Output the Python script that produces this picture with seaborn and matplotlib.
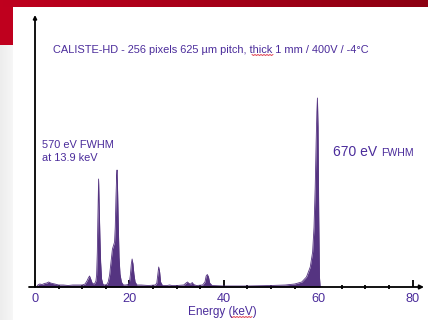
import numpy as np
import pandas as pd
import matplotlib
matplotlib.use("Agg")
import matplotlib.pyplot as plt
from matplotlib.ticker import MultipleLocator
from matplotlib.lines import Line2D
import seaborn as sns

# ---- data (counts in arbitrary units) ----
energy_kev = [0.3, 0.6, 1.0, 1.5, 2.0, 2.5, 2.9, 3.3, 3.7, 4.2, 5.0, 6.0, 7.0, 8.0, 9.0,
              10.0, 10.6, 11.0, 11.3, 11.55, 11.8, 12.1, 12.4, 12.7, 12.9, 13.05, 13.2,
              13.3, 13.47, 13.6, 13.75, 13.9, 14.1, 14.4, 14.8, 15.2, 15.5, 15.8, 16.1,
              16.4, 16.66, 16.85, 17.0, 17.15, 17.3, 17.38, 17.5, 17.65, 17.8, 18.0, 18.3,
              18.7, 19.2, 19.7, 20.0, 20.2, 20.4, 20.57, 20.75, 20.95, 21.2, 21.6, 22.5,
              24.0, 25.5, 25.8, 26.0, 26.2, 26.4, 26.6, 27.0, 28.0, 28.5, 29.0, 30.0,
              31.5, 32.0, 32.3, 32.6, 33.0, 33.3, 33.6, 34.2, 35.5, 36.0, 36.25, 36.5,
              36.75, 37.0, 37.5, 40.0, 45.0, 50.0, 53.0, 55.0, 56.5, 57.5, 58.3, 58.8,
              59.1, 59.35, 59.55, 59.7, 59.82, 59.95, 60.1, 60.25, 60.4, 61.0]
counts = [0, 20, 30, 25, 35, 40, 50, 40, 35, 30, 20, 20, 15, 20, 20,
          20, 30, 60, 90, 110, 80, 40, 30, 40, 60, 120, 350,
          650, 1080, 800, 500, 250, 80, 25, 20, 25, 50, 120, 250,
          380, 420, 450, 600, 900, 1120, 1170, 950, 600, 300, 130, 50,
          20, 20, 25, 50, 120, 230, 280, 230, 130, 50, 20, 20,
          15, 20, 40, 120, 200, 150, 50, 15, 15, 20, 15, 15,
          20, 40, 50, 35, 30, 45, 25, 15, 20, 50, 110, 125,
          100, 40, 15, 10, 10, 15, 20, 30, 50, 100, 200, 350,
          600, 1000, 1450, 1750, 1890, 1600, 700, 100, 0, 0]
major_ticks = [0, 20, 40, 60, 80]
tick_labels = ["0", "20", "40", "60", "80"]

title_text = "CALISTE-HD - 256 pixels 625 \u00b5m pitch, thick 1 mm / 400V / -4\u00b0C"
x_label = "Energy (keV)"
note_left = ["570 eV FWHM", "at 13.9 keV"]
note_right_big = "670 eV"
note_right_small = "FWHM"

df = pd.DataFrame({"energy": energy_kev, "counts": counts})

# ---- styling ----
sns.set_theme(style="white")
plt.rcParams["font.family"] = ["Liberation Sans", "DejaVu Sans"]

W, H = 428, 320
fig = plt.figure(figsize=(W / 100, H / 100), dpi=100)

# background: slide decorations
bg = np.ones((H, W, 3))
ramp = np.linspace(0, 1, W)
red_l = np.array([0.75, 0.0, 0.12])
red_r = np.array([0.55, 0.0, 0.07])
red_row = red_l[None, :] * (1 - ramp[:, None]) + red_r[None, :] * ramp[:, None]
bg[0:7, :, :] = red_row[None, :, :]
bg[7:45, 0:13, :] = red_l
gray = np.linspace(0.93, 0.965, 13)
bg[45:, 0:13, :] = gray[None, :, None]
bax = fig.add_axes([0, 0, 1, 1])
bax.imshow(bg, aspect="auto", interpolation="nearest")
bax.axis("off")

purple_txt = "#4B2C9B"
fill_col = "#553481"

# axes geometry: 0 keV at x=35px, 80 keV at x=412.7px ; baseline y=287, top y=15
pxk = (412.7 - 35) / 80.0
x_left_px, x_right_px = 29, 424
xlim = ((x_left_px - 35) / pxk, (x_right_px - 35) / pxk)
ax = fig.add_axes([x_left_px / W, (H - 287) / H, (x_right_px - x_left_px) / W, (287 - 15) / H])
ax.patch.set_alpha(0)
ax.set_xlim(*xlim)
ax.set_ylim(0, 2720)

sns.lineplot(data=df, x="energy", y="counts", ax=ax, color=fill_col, linewidth=0.6, zorder=4)
ax.fill_between(df["energy"], 0, df["counts"], color=fill_col, linewidth=0, zorder=4)

for s in ax.spines.values():
    s.set_visible(False)
ax.set_yticks([])
ax.set_xlabel("")
ax.set_ylabel("")
ax.set_xticks(major_ticks)
ax.set_xticklabels(tick_labels, color=purple_txt, fontsize=9.2)
ax.xaxis.set_minor_locator(MultipleLocator(5))
ax.tick_params(axis="x", which="major", direction="in", length=5, width=1.3, color="black",
               pad=4.5, bottom=True)
ax.tick_params(axis="x", which="minor", direction="inout", length=3, width=1.3, color="black",
               bottom=True)

# axis lines with arrows
ax.annotate("", xy=(1.0, 0), xytext=(0.0, 0), xycoords="axes fraction",
            arrowprops=dict(arrowstyle="-|>", color="black", lw=1.3, mutation_scale=6,
                            shrinkA=0, shrinkB=0), zorder=5)
ax.annotate("", xy=(0, 2720), xytext=(0, 0), xycoords="data",
            arrowprops=dict(arrowstyle="-|>", color="black", lw=1.3, mutation_scale=5,
                            shrinkA=0, shrinkB=0), zorder=5, annotation_clip=False)


def ftxt(x, y, s, **kw):
    return fig.text(x / W, 1 - y / H, s, color=purple_txt, va="baseline", **kw)


ftxt(53, 53.3, title_text, fontsize=7.95)
ftxt(42, 147.7, note_left[0], fontsize=7.9)
ftxt(42, 161.3, note_left[1], fontsize=7.9)
ftxt(333, 156, note_right_big, fontsize=10)
ftxt(381, 156, note_right_small, fontsize=7.6)
ftxt(222, 315.5, x_label, fontsize=8.5, ha="center")


# spell-check squiggles
def squiggle(x0, x1, y):
    xs = np.arange(x0, x1 + 0.1, 1.5)
    ys = y + np.where(np.arange(len(xs)) % 2 == 0, 0.0, 1.0)
    fig.add_artist(Line2D(xs / W, 1 - ys / H, color="#e04050", lw=0.7))


squiggle(252, 274, 54.5)
squiggle(231, 253, 316.5)

fig.savefig("out.png", dpi=100)
